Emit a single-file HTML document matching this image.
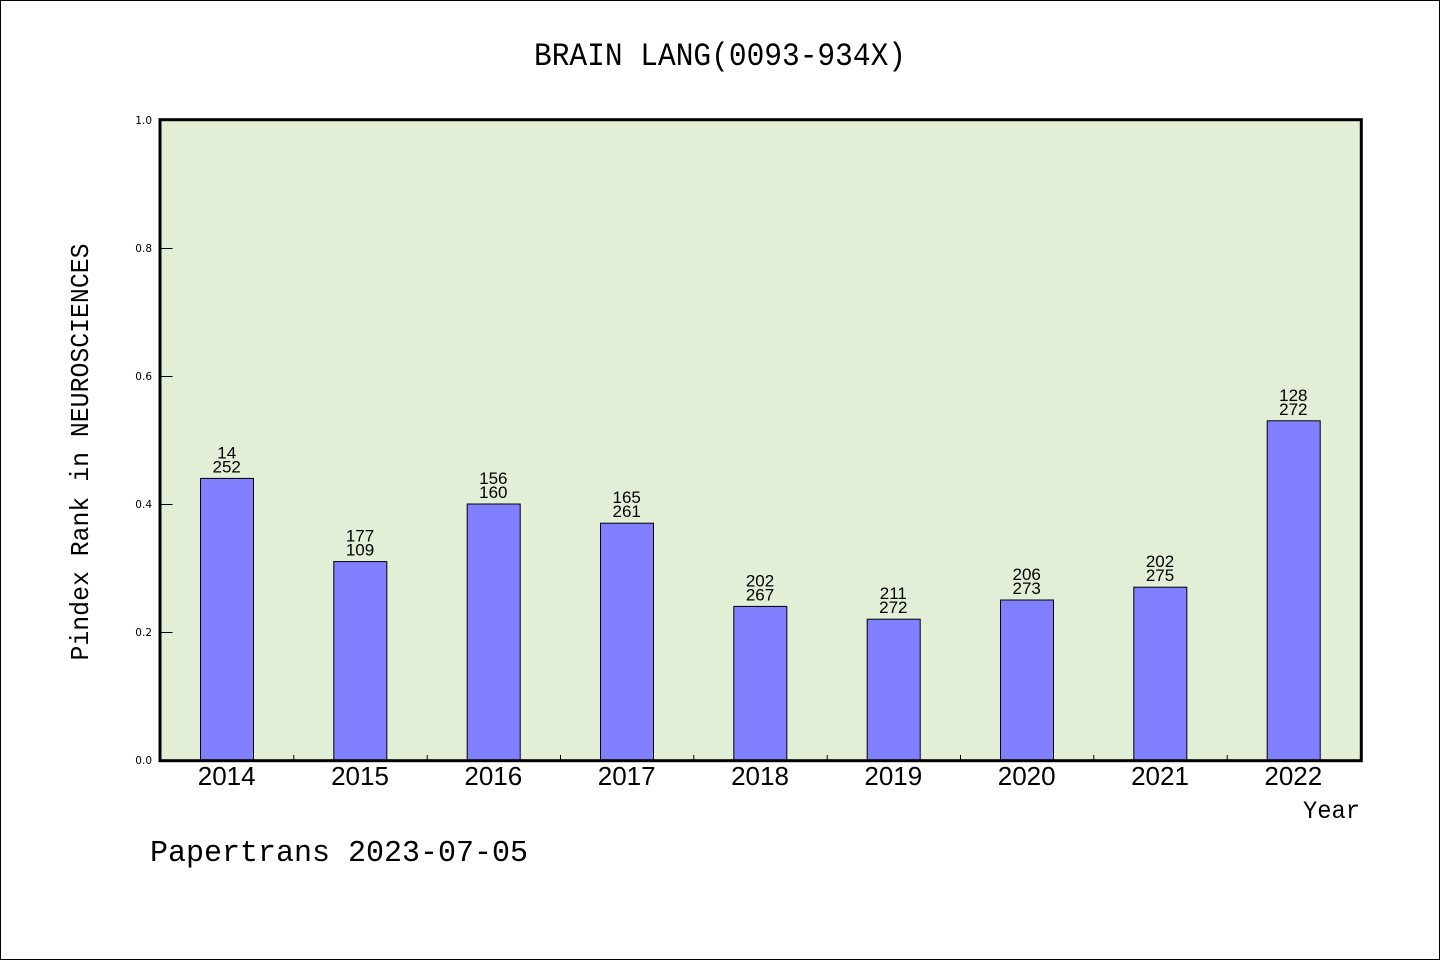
<!DOCTYPE html>
<html>
<head>
<meta charset="utf-8">
<style>
html,body{margin:0;padding:0;background:#fff;}
svg{display:block;}
</style>
</head>
<body>
<svg width="1440" height="960" viewBox="0 0 1440 960" xmlns="http://www.w3.org/2000/svg">
<rect x="0.5" y="0.5" width="1439" height="959" fill="#fff" stroke="#000" stroke-width="1"/>
<!-- plot bg -->
<rect x="160" y="120" width="1201" height="641" fill="#e2efd6"/>
<!-- bars -->
<g fill="#8080ff" stroke="#000" stroke-width="1">
<rect x="200.5" y="478.4" width="53" height="282"/>
<rect x="333.8" y="561.6" width="53" height="199"/>
<rect x="467.2" y="504" width="53" height="256.5"/>
<rect x="600.5" y="523.2" width="53" height="237"/>
<rect x="733.8" y="606.4" width="53" height="154"/>
<rect x="867.2" y="619.2" width="53" height="141"/>
<rect x="1000.5" y="600" width="53" height="160.5"/>
<rect x="1133.8" y="587.2" width="53" height="173"/>
<rect x="1267.2" y="420.8" width="53" height="339.7"/>
</g>
<!-- bar labels -->
<g font-family="Liberation Sans, sans-serif" font-size="17" text-anchor="middle" fill="#000">
<text x="226.7" y="458.4">14</text><text x="226.7" y="472.4">252</text>
<text x="360" y="541.6">177</text><text x="360" y="555.6">109</text>
<text x="493.3" y="484">156</text><text x="493.3" y="498">160</text>
<text x="626.7" y="503.2">165</text><text x="626.7" y="517.2">261</text>
<text x="760" y="586.4">202</text><text x="760" y="600.4">267</text>
<text x="893.3" y="599.2">211</text><text x="893.3" y="613.2">272</text>
<text x="1026.7" y="580">206</text><text x="1026.7" y="594">273</text>
<text x="1160" y="567.2">202</text><text x="1160" y="581.2">275</text>
<text x="1293.3" y="400.8">128</text><text x="1293.3" y="414.8">272</text>
</g>
<!-- y ticks -->
<g stroke="#000" stroke-width="1">
<line x1="160" y1="248.5" x2="172.5" y2="248.5"/>
<line x1="160" y1="376.5" x2="172.5" y2="376.5"/>
<line x1="160" y1="504.5" x2="172.5" y2="504.5"/>
<line x1="160" y1="632.5" x2="172.5" y2="632.5"/>
<!-- x ticks -->
<line x1="293.8" y1="755" x2="293.8" y2="761"/>
<line x1="427.2" y1="755" x2="427.2" y2="761"/>
<line x1="560.5" y1="755" x2="560.5" y2="761"/>
<line x1="693.8" y1="755" x2="693.8" y2="761"/>
<line x1="827.2" y1="755" x2="827.2" y2="761"/>
<line x1="960.5" y1="755" x2="960.5" y2="761"/>
<line x1="1093.8" y1="755" x2="1093.8" y2="761"/>
<line x1="1227.2" y1="755" x2="1227.2" y2="761"/>
</g>
<!-- frame -->
<rect x="160" y="119.7" width="1201.3" height="641" fill="none" stroke="#000" stroke-width="3"/>
<!-- y tick labels -->
<g font-family="DejaVu Sans, Liberation Sans, sans-serif" font-size="10.5" text-anchor="end" fill="#000">
<text x="152" y="124">1.0</text>
<text x="152" y="252">0.8</text>
<text x="152" y="380">0.6</text>
<text x="152" y="508">0.4</text>
<text x="152" y="636">0.2</text>
<text x="152" y="764">0.0</text>
</g>
<!-- x tick labels -->
<g font-family="Liberation Sans, sans-serif" font-size="26" text-anchor="middle" fill="#000">
<text x="226.7" y="785">2014</text>
<text x="360" y="785">2015</text>
<text x="493.3" y="785">2016</text>
<text x="626.7" y="785">2017</text>
<text x="760" y="785">2018</text>
<text x="893.3" y="785">2019</text>
<text x="1026.7" y="785">2020</text>
<text x="1160" y="785">2021</text>
<text x="1293.3" y="785">2022</text>
</g>
<!-- title -->
<text x="720" y="65" font-family="Liberation Mono, monospace" font-size="32" text-anchor="middle" textLength="372" lengthAdjust="spacingAndGlyphs">BRAIN LANG(0093-934X)</text>
<!-- y axis label -->
<text transform="translate(88,452) rotate(-90)" x="0" y="0" font-family="Liberation Mono, monospace" font-size="26" text-anchor="middle" textLength="417" lengthAdjust="spacingAndGlyphs">Pindex Rank in NEUROSCIENCES</text>
<!-- Year -->
<text x="1360" y="818" font-family="Liberation Mono, monospace" font-size="25" text-anchor="end" textLength="57" lengthAdjust="spacingAndGlyphs">Year</text>
<!-- footer -->
<text x="150" y="861" font-family="Liberation Mono, monospace" font-size="31" textLength="378" lengthAdjust="spacingAndGlyphs">Papertrans 2023-07-05</text>
</svg>
</body>
</html>
